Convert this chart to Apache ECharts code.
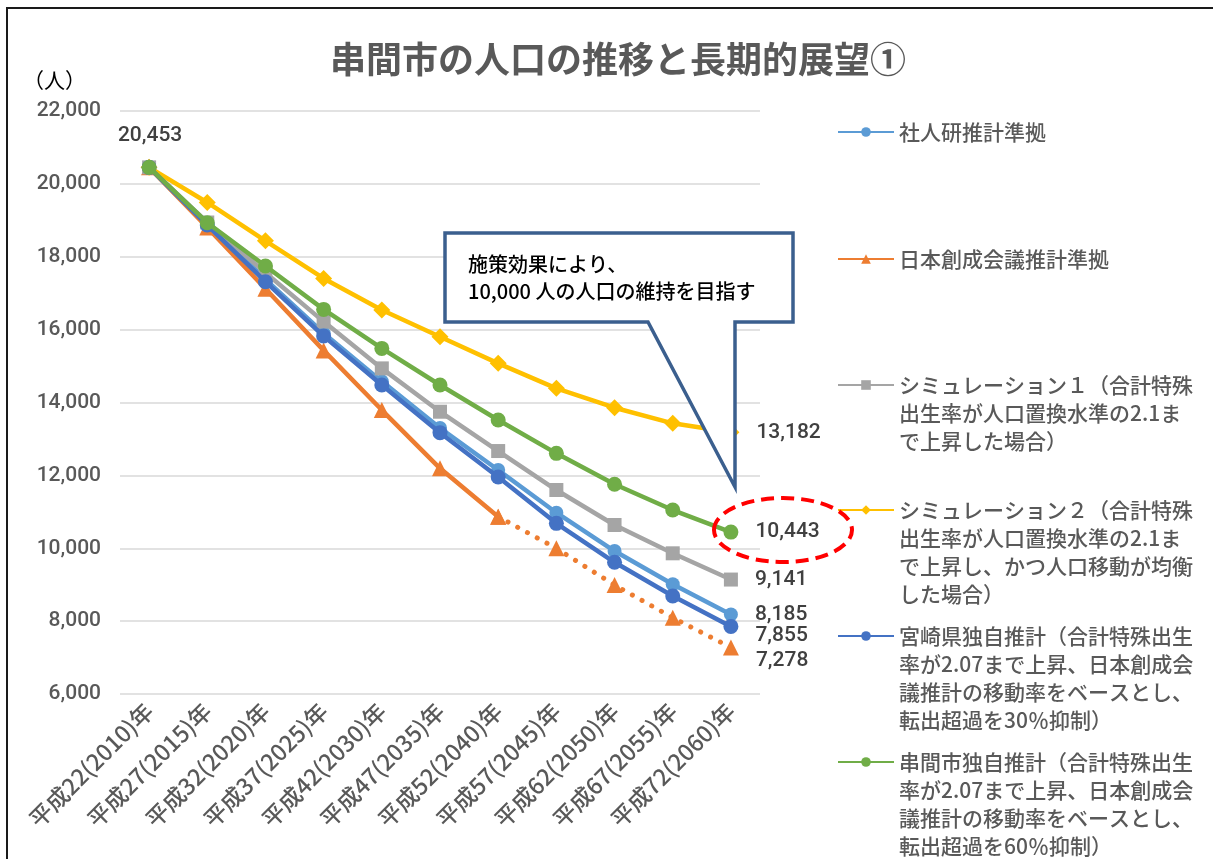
<!DOCTYPE html>
<html><head><meta charset="utf-8">
<script src="https://cdn.jsdelivr.net/npm/echarts@6/dist/echarts.min.js"></script>
<style>html,body{margin:0;padding:0;background:#fff}#c{width:1213px;height:859px}</style>
</head><body><div id="c"></div>
<script>
const categories = ['平成22(2010)年','平成27(2015)年','平成32(2020)年','平成37(2025)年','平成42(2030)年','平成47(2035)年','平成52(2040)年','平成57(2045)年','平成62(2050)年','平成67(2055)年','平成72(2060)年'];
const shajinken = [20453, 18900, 17380, 15900, 14580, 13300, 12147, 10975, 9924, 9010, 8185];
const nihonSousei = [20453, 18806, 17120, 15430, 13793, 12193, 10866, 9998, 8991, 8094, 7278];
const sim1 = [20453, 18940, 17560, 16220, 14936, 13747, 12668, 11598, 10638, 9861, 9141];
const sim2 = [20453, 19489, 18437, 17405, 16538, 15805, 15075, 14389, 13857, 13429, 13182];
const miyazaki = [20453, 18870, 17315, 15824, 14480, 13172, 11955, 10683, 9614, 8690, 7855];
const kushima = [20453, 18934, 17745, 16555, 15485, 14480, 13519, 12605, 11755, 11049, 10443];
const yTicks = [6000, 8000, 10000, 12000, 14000, 16000, 18000, 20000, 22000];
const solidEndIndex = 6;

const names = [
  '社人研推計準拠',
  '日本創成会議推計準拠',
  'シミュレーション１（合計特殊出生率が人口置換水準の2.1まで上昇した場合）',
  'シミュレーション２（合計特殊出生率が人口置換水準の2.1まで上昇し、かつ人口移動が均衡した場合）',
  '宮崎県独自推計（合計特殊出生率が2.07まで上昇、日本創成会議推計の移動率をベースとし、転出超過を30％抑制）',
  '串間市独自推計（合計特殊出生率が2.07まで上昇、日本創成会議推計の移動率をベースとし、転出超過を60％抑制）'
];
const legendLines = [
  ['社人研推計準拠'],
  ['日本創成会議推計準拠'],
  ['シミュレーション１（合計特殊','出生率が人口置換水準の2.1ま','で上昇した場合）'],
  ['シミュレーション２（合計特殊','出生率が人口置換水準の2.1ま','で上昇し、かつ人口移動が均衡','した場合）'],
  ['宮崎県独自推計（合計特殊出生','率が2.07まで上昇、日本創成会','議推計の移動率をベースとし、','転出超過を30％抑制）'],
  ['串間市独自推計（合計特殊出生','率が2.07まで上昇、日本創成会','議推計の移動率をベースとし、','転出超過を60％抑制）']
];
const colors = ['#5B9BD5','#ED7D31','#A5A5A5','#FFC000','#4472C4','#70AD47'];
const symbols = ['circle','triangle','rect','diamond','circle','circle'];
const symbolSizes = [14, 16, 14, 17, 15, 15];
const endOffsets = [0, 13, 0, 0, 9, 0];

const fmt = v => v.toLocaleString('en-US');
const labelStyle = {fontFamily:'Roboto', fontSize:21, fontWeight:500, color:'#404040'};

function withEndLabel(values, idx){
  const last = values.length - 1;
  return values.map((v, i) => {
    if (v === null) return null;
    if (i === last) return {value: v, label: Object.assign({show:true, position:'right', distance:17, offset:[0, endOffsets[idx]], formatter: p => fmt(p.value)}, labelStyle)};
    if (i === 0 && idx === 0) return {value: v, label: Object.assign({show:true, position:'top', distance:14, offset:[1,0], formatter: p => fmt(p.value)}, labelStyle)};
    return v;
  });
}

const seriesDataArr = [shajinken, nihonSousei, sim1, sim2, miyazaki, kushima];
const series = [];
seriesDataArr.forEach((vals, idx) => {
  let data = vals;
  if (idx === 1) data = vals.map((v, i) => i <= solidEndIndex ? v : null);
  series.push({
    name: names[idx], type: 'line', data: withEndLabel(data, idx),
    symbol: symbols[idx], symbolSize: symbolSizes[idx], showSymbol: true,
    lineStyle: {color: colors[idx], width: 4.5},
    itemStyle: {color: colors[idx]},
    z: 2 + idx, animation: false
  });
  if (idx === 1) {
    series.push({
      name: names[1] + '_dotted', type: 'line',
      data: withEndLabel(vals.map((v, i) => i >= solidEndIndex ? v : null), 1),
      symbol: 'triangle', symbolSize: symbolSizes[1],
      lineStyle: {color: colors[1], width: 5, type: [0.1, 11], cap: 'round'},
      itemStyle: {color: colors[1]}, z: 3, animation: false
    });
  }
});

const legendIconY = [132, 259, 385, 510, 636, 762];
const LH = 28;
const legends = names.map((n, i) => {
  const k = legendLines[i].length;
  return {
    data: [n], orient: 'vertical', left: 837, top: legendIconY[i] - (2*k-1)*LH/2,
    padding: 0, itemWidth: 56, itemHeight: 12, selectedMode: false,
    formatter: () => '\n'.repeat(k-1) + legendLines[i].join('\n'),
    textStyle: {fontFamily:'Noto Sans CJK JP', fontSize:21, lineHeight:LH, color:'#595959', fontWeight:500}
  };
});

const chart = echarts.init(document.getElementById('c'), null, {renderer:'canvas'});
chart.setOption({
  animation: false,
  backgroundColor: '#fff',
  title: {text:'串間市の人口の推移と長期的展望①', left: 613, top: 36, textAlign: 'center',
    textStyle:{fontFamily:'Noto Sans CJK JP', fontSize:36, fontWeight:'bold', color:'#595959'}},
  legend: legends,
  grid: {left:120, top:111, width:640, height:583, containLabel:false},
  xAxis: {type:'category', data: categories, boundaryGap:true,
    axisLine:{show:false}, axisTick:{show:false},
    axisLabel:{rotate:45, interval:0, margin:13, fontFamily:'Noto Sans CJK JP', fontSize:23, fontWeight:500, color:'#595959'}},
  yAxis: {type:'value', min: yTicks[0], max: yTicks[yTicks.length-1], interval: 2000,
    name:'（人）', nameLocation:'end', nameGap:20,
    nameTextStyle:{fontFamily:'Noto Sans CJK JP', fontSize:21, color:'#000', align:'right', padding:[0,34,0,0]},
    axisLine:{show:false}, axisTick:{show:false},
    axisLabel:{margin:19, fontFamily:'Roboto', fontSize:21, fontWeight:500, color:'#595959', formatter: v => fmt(v)},
    splitLine:{lineStyle:{color:'#D9D9D9', width:1.5}}},
  series: series,
  graphic: [
    {type:'rect', z:0, silent:true, shape:{x:7, y:8, width:1230, height:880}, style:{fill:null, stroke:'#1a1a1a', lineWidth:2}},
    {type:'polygon', z:100, silent:true, shape:{points:[[445,233],[793,233],[793,322],[735,322],[735,487],[648,322],[445,322]]},
      style:{fill:'#fff', stroke:'#3B5F8E', lineWidth:3.5, lineJoin:'miter'}},
    {type:'text', z:101, silent:true, left:468, top:251, style:{text:'施策効果により、\n10,000 人の人口の維持を目指す', fontFamily:'Noto Sans CJK JP', fontSize:20, fontWeight:500, lineHeight:27, fill:'#000'}},
    {type:'ellipse', z:102, silent:true, shape:{cx:783, cy:530, rx:69, ry:32}, style:{fill:null, stroke:'#FF0000', lineWidth:4, lineDash:[13,7]}}
  ]
});
</script></body></html>
